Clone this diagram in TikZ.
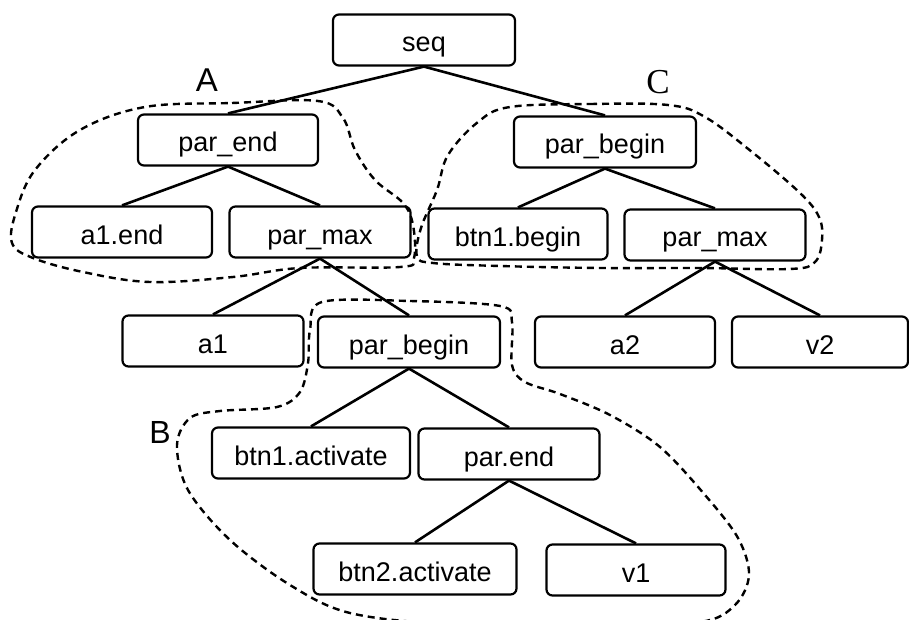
\documentclass[tikz,border=0pt]{standalone}
\usepackage{fontspec}
\setmainfont{Liberation Sans}
\newfontfamily\serifC{Liberation Serif}
\begin{document}
\begin{tikzpicture}[x=1pt,y=-1pt,
  box/.style={draw, line width=2.2pt, rounded corners=6pt, inner sep=0pt,
    minimum height=51pt, text height=30pt, text depth=6pt,
    font=\fontsize{27}{30}\selectfont},
  edge/.style={line width=2.6pt},
  region/.style={line width=2.4pt, dash pattern=on 7pt off 5pt},
  lab/.style={inner sep=0pt}]
\clip (0,0) rectangle (909,620);
\fill[white] (0,0) rectangle (909,620);

% nodes
\node[box, minimum width=182pt] (seq) at (424,40) {seq};
\node[box, minimum width=180pt] (pe) at (228,140) {par\_end};
\node[box, minimum width=182pt] (pb) at (605,142) {par\_begin};
\node[box, minimum width=180pt] (a1e) at (122,232) {a1.end};
\node[box, minimum width=181pt] (pmL) at (320,232) {par\_max};
\node[box, minimum width=179pt] (b1b) at (518,234) {btn1.begin};
\node[box, minimum width=181pt] (pmR) at (715,235) {par\_max};
\node[box, minimum width=181pt] (a1) at (213,341) {a1};
\node[box, minimum width=182pt] (pbB) at (409,342) {par\_begin};
\node[box, minimum width=180pt] (a2) at (625,342) {a2};
\node[box, minimum width=176pt] (v2) at (820,342) {v2};
\node[box, minimum width=198pt] (b1a) at (311,453) {btn1.activate};
\node[box, minimum width=181pt] (pnd) at (509,454) {par.end};
\node[box, minimum width=203pt] (b2a) at (415,569) {btn2.activate};
\node[box, minimum width=179pt] (v1) at (636,570) {v1};

% edges
\draw[edge] (seq.south) -- (pe.north);
\draw[edge] (seq.south) -- (pb.north);
\draw[edge] (pe.south) -- (a1e.north);
\draw[edge] (pe.south) -- (pmL.north);
\draw[edge] (pb.south) -- (b1b.north);
\draw[edge] (pb.south) -- (pmR.north);
\draw[edge] (pmL.south) -- (a1.north);
\draw[edge] (pmL.south) -- (pbB.north);
\draw[edge] (pmR.south) -- (a2.north);
\draw[edge] (pmR.south) -- (v2.north);
\draw[edge] (pbB.south) -- (b1a.north);
\draw[edge] (pbB.south) -- (pnd.north);
\draw[edge] (pnd.south) -- (b2a.north);
\draw[edge] (pnd.south) -- (v1.north);

% region A
\draw[region] plot[smooth cycle, tension=0.6] coordinates {
  (145,107) (232,103) (318,101) (343,118) (355,150) (375,180) (403,203)
  (413,225) (414,258) (400,267) (300,268) (233,277) (150,282) (83,272)
  (33,258) (12,243) (16,212) (35,170) (80,130)};
% region C
\draw[region] plot[smooth cycle, tension=0.6] coordinates {
  (510,107) (590,104) (668,105) (705,117) (752,152) (800,193) (819,217)
  (822,240) (815,262) (790,269) (700,268) (600,268) (500,266) (433,263)
  (417,256) (421,228) (437,190) (448,155) (478,122)};
% region B
\draw[region] plot[smooth cycle, tension=0.55] coordinates {
  (322,302) (410,301) (500,306) (512,322) (512,365) (525,382) (560,394)
  (610,415) (660,447) (705,495) (738,538) (749,575) (735,605) (700,622)
  (600,624) (450,624) (350,613) (290,585) (230,540) (188,490) (177,445)
  (190,418) (220,411) (277,407) (300,392) (308,363) (310,330)};

% labels
\node[lab, font=\fontsize{33}{36}\selectfont] (LA) at (207,80) {A};
\node[lab, font=\fontsize{32}{36}\selectfont] (LB) at (160,432) {B};
\node[lab, font=\serifC\fontsize{35}{38}\selectfont] (LC) at (658,82) {C};
\end{tikzpicture}
\end{document}
